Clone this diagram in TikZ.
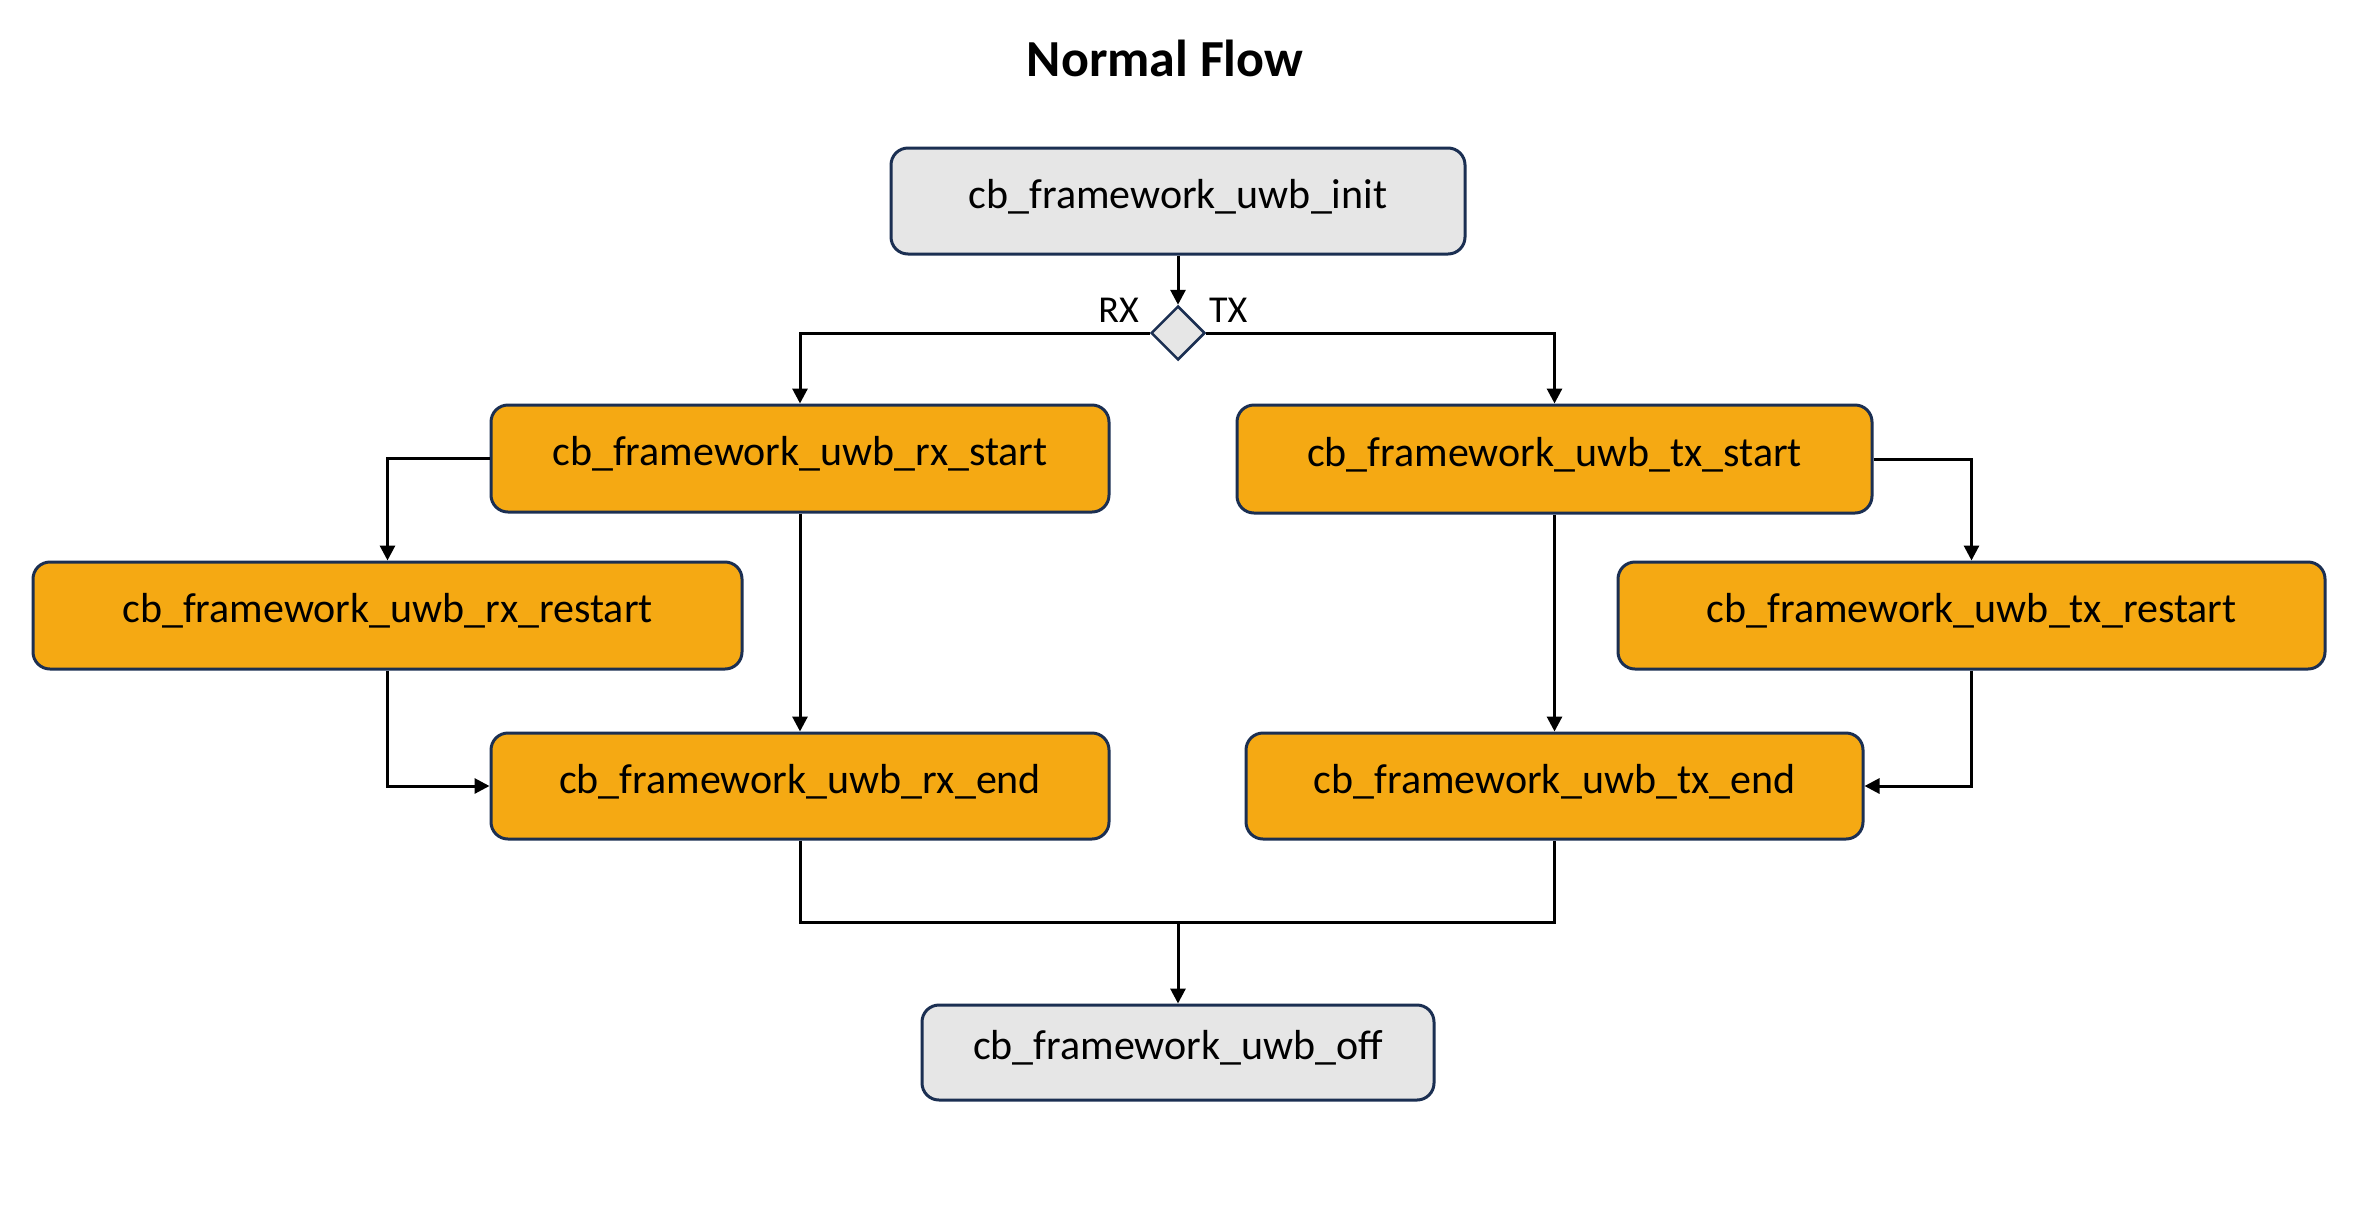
\documentclass[tikz,border=0pt]{standalone}
\usepackage{fontspec}
\setmainfont{Carlito}
\usetikzlibrary{shapes.geometric,arrows.meta}
\definecolor{navy}{HTML}{1B2F52}
\definecolor{orangefill}{HTML}{F5A913}
\definecolor{grayfill}{HTML}{E6E6E6}
\tikzset{
  box/.style={draw=navy, line width=3pt, rounded corners=17pt, inner sep=0pt,
    text height=30pt, text depth=16pt,
    font=\fontsize{42}{50}\selectfont, text=black},
  obox/.style={box, fill=orangefill},
  gbox/.style={box, fill=grayfill},
  arr/.style={draw=black, line width=3pt, -{Triangle[length=15pt,width=15pt]}},
  conn/.style={draw=black, line width=3pt},
  lbl/.style={font=\fontsize{38}{44}\selectfont, inner sep=0pt}
}
\begin{document}
\begin{tikzpicture}[x=1pt,y=-1pt]
\useasboundingbox[fill=white] (0,0) rectangle (2369,1219);
\node[font=\bfseries\fontsize{52}{60}\selectfont, anchor=base, inner sep=0pt] (title) at (1165,76) {Normal Flow};

\node[gbox, minimum width=574pt, minimum height=106pt] (init) at (1178,201) {cb\_framework\_uwb\_init};
\node[diamond, draw=navy, fill=grayfill, line width=2.5pt, minimum width=54pt, minimum height=54pt, inner sep=0pt] (dia) at (1178,333) {};
\node[lbl, anchor=base east] (rx) at (1139,322) {RX};
\node[lbl, anchor=base west] (tx) at (1209,322) {TX};

\node[obox, minimum width=618pt, minimum height=107pt] (rxs) at (800,458.5) {cb\_framework\_uwb\_rx\_start};
\node[obox, minimum width=635pt, minimum height=108pt] (txs) at (1554.5,459) {cb\_framework\_uwb\_tx\_start};
\node[obox, minimum width=709pt, minimum height=107pt] (rxr) at (387.5,615.5) {cb\_framework\_uwb\_rx\_restart};
\node[obox, minimum width=707pt, minimum height=107pt] (txr) at (1971.5,615.5) {cb\_framework\_uwb\_tx\_restart};
\node[obox, minimum width=618pt, minimum height=106pt] (rxe) at (800,786) {cb\_framework\_uwb\_rx\_end};
\node[obox, minimum width=617pt, minimum height=106pt] (txe) at (1554.5,786) {cb\_framework\_uwb\_tx\_end};
\node[gbox, minimum width=512pt, minimum height=95pt] (off) at (1178,1052.5) {cb\_framework\_uwb\_off};

\coordinate (m) at (1178,922);

\draw[arr] (init.south) -- (dia.north);
\draw[arr] (dia.west) -| (rxs.north);
\draw[arr] (dia.east) -| (txs.north);
\draw[arr] (rxs.west) -| (rxr.north);
\draw[arr] (rxr.south) |- (rxe.west);
\draw[arr] (rxs.south) -- (rxe.north);
\draw[arr] (txs.east) -| (txr.north);
\draw[arr] (txr.south) |- (txe.east);
\draw[arr] (txs.south) -- (txe.north);
\draw[conn] (rxe.south) |- (m) -| (txe.south);
\draw[arr] (m) -- (off.north);
\end{tikzpicture}
\end{document}
